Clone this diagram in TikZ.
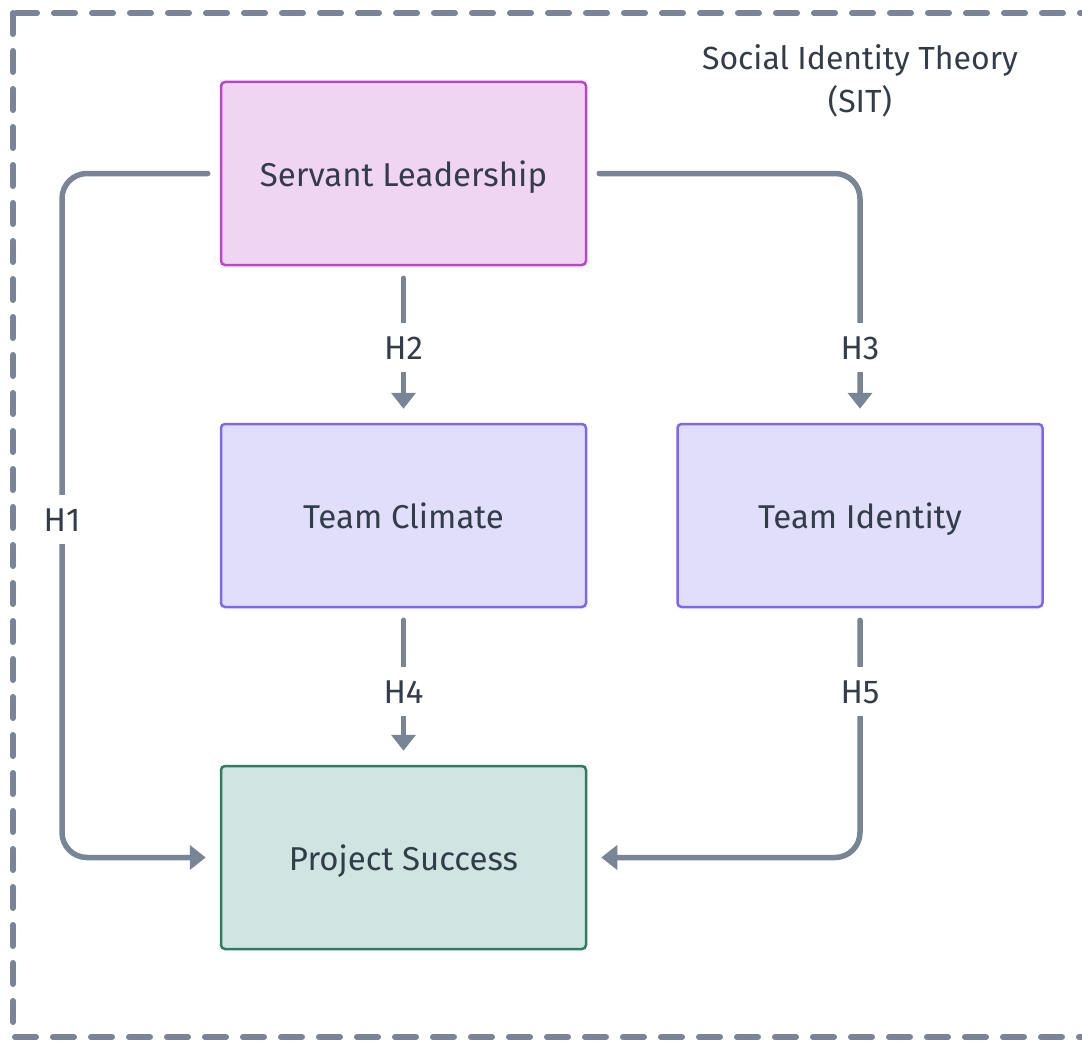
\documentclass[tikz,border=0pt]{standalone}
\usepackage{fontspec}
\setmainfont{Fira Sans}
\usetikzlibrary{arrows.meta,calc}
\definecolor{txt}{HTML}{333D4A}
\definecolor{wire}{HTML}{778596}
\definecolor{slfill}{HTML}{F0D5F2}
\definecolor{sldraw}{HTML}{C040D0}
\definecolor{tmfill}{HTML}{E0DEFA}
\definecolor{tmdraw}{HTML}{7B68EE}
\definecolor{psfill}{HTML}{D0E4E2}
\definecolor{psdraw}{HTML}{2E7D62}
\begin{document}
\begin{tikzpicture}[x=1pt,y=-1pt,
  every node/.style={font=\fontsize{33}{38}\selectfont, text=txt},
  box/.style={rectangle, rounded corners=4pt, line width=2.5pt,
    minimum width=365pt, minimum height=183pt, inner sep=0pt,
    text height=32pt, text depth=7pt},
  conn/.style={draw=wire, line width=5.5pt, line cap=round, rounded corners=25pt,
    shorten <=12pt, shorten >=14pt,
    -{Triangle[length=16pt,width=24pt]}},
  lbl/.style={fill=white, inner xsep=4pt, inner ysep=5pt,
    text height=32pt, text depth=7pt},
  frame/.style={draw=wire, line width=6pt, line cap=round,
    dash pattern=on 21pt off 17pt}]
\useasboundingbox (0,0) rectangle (1082,1041);
\begin{scope}
\clip (0,0) rectangle (1082,1041);
\draw[frame] (13,13) rectangle (1110,1037);
\end{scope}

% title of the surrounding theory
\node[align=center, font=\fontsize{32}{43}\selectfont] (sit) at (860,81) {Social Identity Theory\\(SIT)};

% constructs
\node[box, fill=slfill, draw=sldraw] (SL) at (403.5,173.5) {Servant Leadership};
\node[box, fill=tmfill, draw=tmdraw] (TC) at (403.5,515.5) {Team Climate};
\node[box, fill=tmfill, draw=tmdraw] (TI) at (860,515.5) {Team Identity};
\node[box, fill=psfill, draw=psdraw] (PS) at (403.5,857.5) {Project Success};

% bend points of the outer paths
\coordinate (h1a) at (62,173.5);
\coordinate (h1b) at (62,857.5);
\coordinate (h3a) at (860,173.5);
\coordinate (h5a) at (860,857.5);

% hypothesised effects
\draw[conn] (SL.west) -- (h1a) -- (h1b) -- (PS.west);
\draw[conn] (SL.south) -- (TC.north);
\draw[conn] (SL.east) -- (h3a) -- (TI.north);
\draw[conn] (TC.south) -- (PS.north);
\draw[conn] (TI.south) -- (h5a) -- (PS.east);

% hypothesis labels
\node[lbl] (H1) at (62,519) {H1};
\node[lbl] (H2) at (403.5,347) {H2};
\node[lbl] (H3) at (860,347) {H3};
\node[lbl] (H4) at (403.5,691) {H4};
\node[lbl] (H5) at (860,691) {H5};
\end{tikzpicture}
\end{document}
